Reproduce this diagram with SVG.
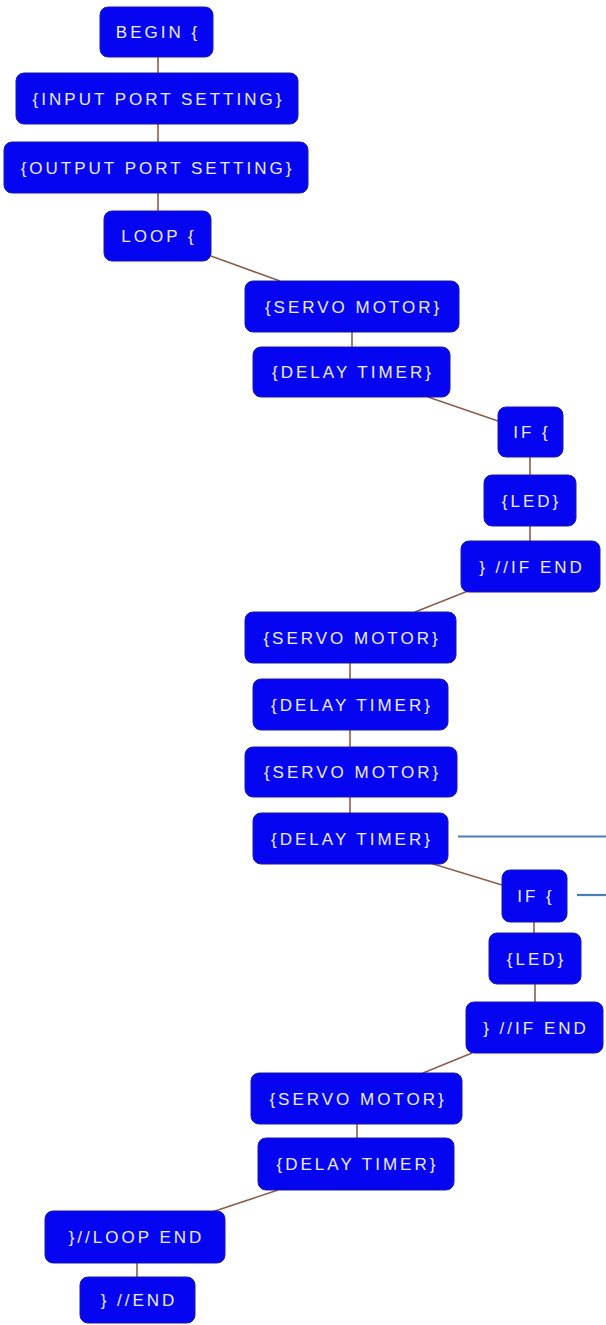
<svg xmlns="http://www.w3.org/2000/svg" width="606" height="1325" viewBox="0 0 606 1325">
<style>
.box{fill:#0505f2;stroke:#1a1aa8;stroke-width:1}
.lbl{font-family:"Liberation Sans",Arial,sans-serif;font-size:17px;letter-spacing:3px;fill:#ececf4;text-anchor:middle}
.c{stroke:#8b5e4b;stroke-width:1.6;fill:none}
.b{stroke:#4a7ebb;stroke-width:2.2;fill:none}
</style>
<rect width="606" height="1325" fill="#ffffff"/>
<g id="connectors">
<line class="c" x1="158" y1="57" x2="158" y2="73"/>
<line class="c" x1="158" y1="124" x2="158" y2="142"/>
<line class="c" x1="158" y1="193" x2="158" y2="211"/>
<line class="c" x1="211" y1="256" x2="280" y2="281"/>
<line class="c" x1="352" y1="332" x2="352" y2="347"/>
<line class="c" x1="428" y1="397" x2="498" y2="421"/>
<line class="c" x1="530" y1="457" x2="530" y2="475"/>
<line class="c" x1="530" y1="526" x2="530" y2="541"/>
<line class="c" x1="468" y1="591" x2="415" y2="612"/>
<line class="c" x1="350" y1="663" x2="350" y2="679"/>
<line class="c" x1="350" y1="730" x2="350" y2="747"/>
<line class="c" x1="350" y1="797" x2="350" y2="813"/>
<line class="c" x1="430" y1="863" x2="502" y2="885"/>
<line class="c" x1="534" y1="922" x2="534" y2="933"/>
<line class="c" x1="535" y1="984" x2="535" y2="1002"/>
<line class="c" x1="472" y1="1053" x2="423" y2="1073"/>
<line class="c" x1="357" y1="1124" x2="357" y2="1138"/>
<line class="c" x1="278" y1="1190" x2="212" y2="1212"/>
<line class="c" x1="137" y1="1263" x2="137" y2="1277"/>
<line class="b" x1="458" y1="836.5" x2="606" y2="836.5"/>
<line class="b" x1="577" y1="895" x2="606" y2="895"/>
</g>
<g id="n1"><rect class="box" x="100" y="7" width="113" height="50" rx="8"/><text class="lbl" x="158" y="38">BEGIN {</text></g>
<g id="n2"><rect class="box" x="16" y="73" width="282" height="51" rx="8"/><text class="lbl" x="158.5" y="104.5">{INPUT PORT SETTING}</text></g>
<g id="n3"><rect class="box" x="4" y="142" width="304" height="51" rx="8"/><text class="lbl" x="157.5" y="173.5">{OUTPUT PORT SETTING}</text></g>
<g id="n4"><rect class="box" x="104" y="211" width="107" height="50" rx="8"/><text class="lbl" x="159" y="242">LOOP {</text></g>
<g id="n5"><rect class="box" x="245" y="281" width="214" height="51" rx="8"/><text class="lbl" x="353.5" y="312.5">{SERVO MOTOR}</text></g>
<g id="n6"><rect class="box" x="253" y="347" width="197" height="50" rx="8"/><text class="lbl" x="353" y="378">{DELAY TIMER}</text></g>
<g id="n7"><rect class="box" x="498" y="407" width="65" height="50" rx="8"/><text class="lbl" x="532" y="438">IF {</text></g>
<g id="n8"><rect class="box" x="484" y="475" width="92" height="51" rx="8"/><text class="lbl" x="531.5" y="506.5">{LED}</text></g>
<g id="n9"><rect class="box" x="461" y="541" width="139" height="51" rx="8"/><text class="lbl" x="532" y="572.5">} //IF END</text></g>
<g id="n10"><rect class="box" x="245" y="612" width="211" height="51" rx="8"/><text class="lbl" x="352" y="643.5">{SERVO MOTOR}</text></g>
<g id="n11"><rect class="box" x="253" y="679" width="195" height="51" rx="8"/><text class="lbl" x="352" y="710.5">{DELAY TIMER}</text></g>
<g id="n12"><rect class="box" x="245" y="747" width="212" height="50" rx="8"/><text class="lbl" x="352.5" y="778">{SERVO MOTOR}</text></g>
<g id="n13"><rect class="box" x="253" y="813" width="195" height="51" rx="8"/><text class="lbl" x="352" y="844.5">{DELAY TIMER}</text></g>
<g id="n14"><rect class="box" x="502" y="870" width="65" height="52" rx="8"/><text class="lbl" x="536" y="902">IF {</text></g>
<g id="n15"><rect class="box" x="489" y="933" width="92" height="51" rx="8"/><text class="lbl" x="536.5" y="964.5">{LED}</text></g>
<g id="n16"><rect class="box" x="466" y="1002" width="137" height="51" rx="8"/><text class="lbl" x="536" y="1033.5">} //IF END</text></g>
<g id="n17"><rect class="box" x="251" y="1073" width="211" height="51" rx="8"/><text class="lbl" x="358" y="1104.5">{SERVO MOTOR}</text></g>
<g id="n18"><rect class="box" x="258" y="1138" width="196" height="52" rx="8"/><text class="lbl" x="357.5" y="1170">{DELAY TIMER}</text></g>
<g id="n19"><rect class="box" x="45" y="1211" width="180" height="52" rx="8"/><text class="lbl" x="136.5" y="1243">}//LOOP END</text></g>
<g id="n20"><rect class="box" x="80" y="1277" width="115" height="46" rx="8"/><text class="lbl" x="139" y="1306">} //END</text></g>
</svg>
